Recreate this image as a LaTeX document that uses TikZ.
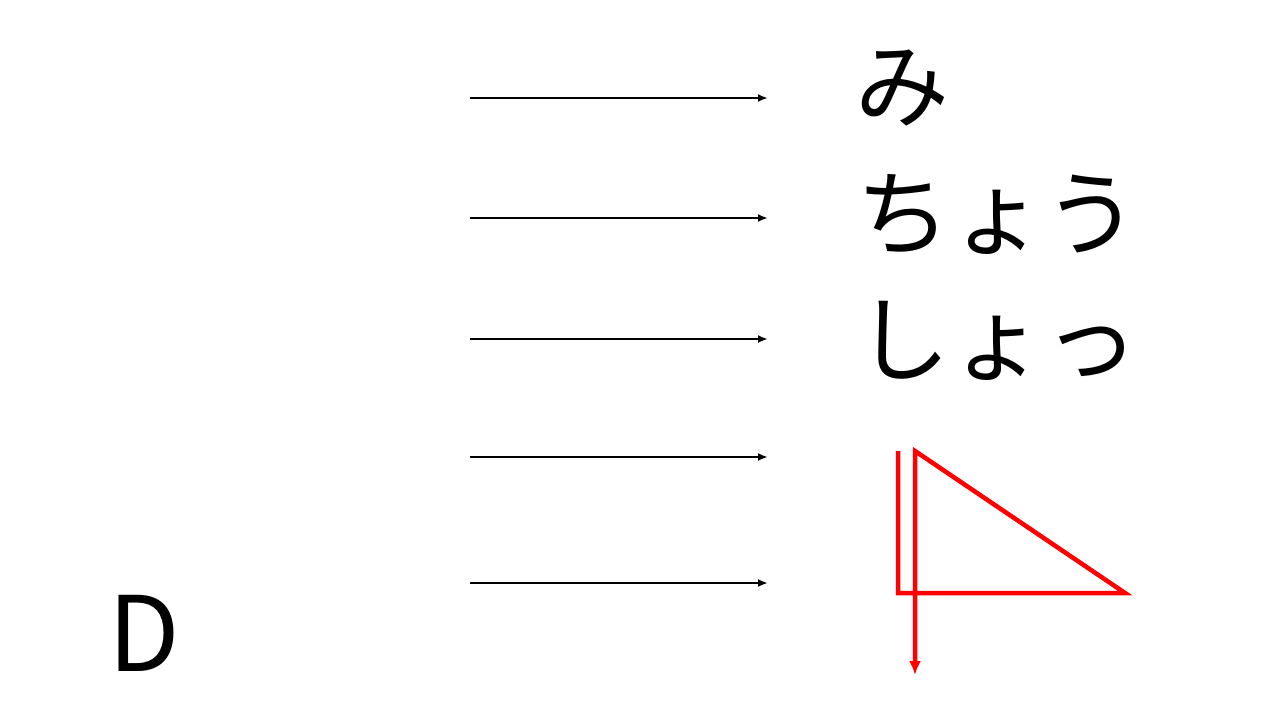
\documentclass[tikz,border=0pt]{standalone}
\usepackage{fontspec}
\newfontfamily\jpfont{Noto Sans CJK JP}
\usetikzlibrary{arrows.meta,positioning}
\definecolor{KanaRed}{RGB}{255,0,0}
\tikzset{
  kana/text/.style={
    anchor=west,
    inner sep=0pt,
    font=\jpfont\fontsize{94}{94}\selectfont
  },
  kana/letter/.style={
    anchor=west,
    inner sep=0pt,
    font=\jpfont\fontsize{104}{104}\selectfont
  },
  kana/arrow/.style={-{Latex[length=10pt,width=8pt]}, line width=2.2pt, draw=black},
  kana/stroke/.style={-{Latex[length=14pt,width=12pt]}, line width=4.5pt, draw=KanaRed}
}
\begin{document}
\begin{tikzpicture}[x=1pt,y=-1pt]
  \useasboundingbox (0,0) rectangle (1280,720);
  % readings
  \node[kana/text] (mi) at (855,88) {み};
  \node[kana/text] (chou) at (856,215) {ちょう};
  \node[kana/text] (shou) at (856,341) {しょっ};
  \node[kana/letter] (d) at (108,633) {D};
  % arrows
  \foreach \row/\y in {1/98,2/218,3/339,4/457,5/583} {
    \coordinate (from\row) at (470,\y);
    \coordinate (to\row) at (768,\y);
    \draw[kana/arrow] (from\row) -- (to\row);
  }
  % red stroke order
  \draw[kana/stroke] (898,451) |- (1125,593) -- (915,451) -- (915,675);
\end{tikzpicture}
\end{document}
